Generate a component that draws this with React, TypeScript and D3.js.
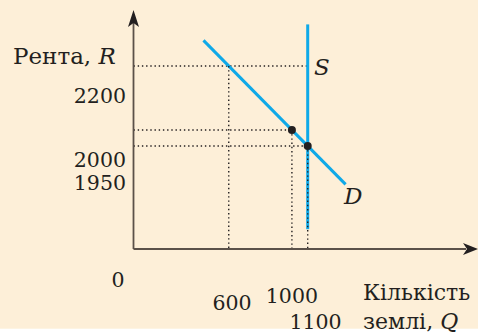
import React from "react";
import * as d3 from "d3";

// ---- data ----
const demandQ = [440, 1340];
const demandR = [2280, 1830];
const supplyQ = [1100, 1100];
const supplyR = [2330, 1690];
const equilibriumQ = [1000, 1100];
const equilibriumR = [2000, 1950];
const guideQ = [600, 1000, 1100];
const guideR = [2200, 2000, 1950];
const xTicks = [0, 600, 1000, 1100];
const yTicks = [2200, 2000, 1950];
const yTitle = "Рента, ";
const yTitleVar = "R";
const xTitle1 = "Кількість";
const xTitle2 = "землі, ";
const xTitleVar = "Q";
const supplyLabel = "S";
const demandLabel = "D";

// ---- layout ----
const W = 478;
const H = 336;
const BG_H = 328.7;
const AXIS_X = 133.5;
const AXIS_Y = 249;
const FONT = "'DejaVu Serif', serif";
const INK = "#231f20";
const BLUE = "#0fa9e8";
// label offsets (schematic placement of the original)
const xTickDx = [-16, 3.3, 0, 7.8];
const xTickDy = [31, 53.5, 46.5, 72.5];
const yTickDy = [30, 30, 37];

export default function App() {
  const x = d3.scaleLinear().domain([0, 1100]).range([134, 307.7]);
  const y = d3.scaleLinear().domain([1950, 2200]).range([146, 66]);

  const line = d3
    .line<[number, number]>()
    .x((d) => x(d[0]))
    .y((d) => y(d[1]));

  const demand: [number, number][] = demandQ.map((q, i) => [q, demandR[i]]);
  const supply: [number, number][] = supplyQ.map((q, i) => [q, supplyR[i]]);

  const hGuides = guideR.map((r, i) => {
    const qEnd = i === 0 ? supplyQ[0] : guideQ[i];
    return { x1: AXIS_X, x2: x(qEnd), y: y(r) };
  });
  const vGuides = guideQ.map((q, i) => ({ x: x(q), y1: y(guideR[i]), y2: AXIS_Y }));

  const dash = "1.4 2.8";

  return (
    <svg
      width={W}
      height={H}
      style={{ position: "absolute", left: 0, top: 0, background: "#fff" }}
      fontFamily={FONT}
    >
      <rect x={0} y={0} width={W} height={BG_H} fill="#fdefd8" />

      {hGuides.map((g, i) => (
        <line key={"h" + i} x1={g.x1} x2={g.x2} y1={g.y} y2={g.y} stroke={INK} strokeWidth={1.4} strokeDasharray={dash} />
      ))}

      <path d={line(demand) || ""} fill="none" stroke={BLUE} strokeWidth={3} />
      <path d={line(supply) || ""} fill="none" stroke={BLUE} strokeWidth={3} />

      {vGuides.map((g, i) => (
        <line key={"v" + i} x1={g.x} x2={g.x} y1={g.y1} y2={g.y2} stroke={INK} strokeWidth={1.4} strokeDasharray={dash} />
      ))}

      <line x1={AXIS_X} x2={AXIS_X} y1={AXIS_Y} y2={22} stroke="#5b5149" strokeWidth={1.8} />
      <line x1={AXIS_X} x2={466} y1={AXIS_Y} y2={AXIS_Y} stroke="#5b5149" strokeWidth={1.8} />
      <path
        d={`M${AXIS_X},10 L${AXIS_X + 5.5},27 L${AXIS_X},23 L${AXIS_X - 5.5},27 Z`}
        fill={INK}
      />
      <path d={`M478,${AXIS_Y} L463,${AXIS_Y - 6} L467,${AXIS_Y} L463,${AXIS_Y + 6} Z`} fill={INK} />

      {equilibriumQ.map((q, i) => (
        <circle key={"p" + i} cx={x(q)} cy={y(equilibriumR[i])} r={4} fill={INK} />
      ))}

      {yTicks.map((t, i) => (
        <text
          key={"yt" + i}
          x={126}
          y={y(t) + yTickDy[i]}
          textAnchor="end"
          dominantBaseline="central"
          fontSize={20.5}
          fill={INK}
        >
          {t}
        </text>
      ))}

      {xTicks.map((t, i) => (
        <text
          key={"xt" + i}
          x={x(t) + xTickDx[i]}
          y={AXIS_Y + xTickDy[i]}
          textAnchor="middle"
          dominantBaseline="central"
          fontSize={20.5}
          fill={INK}
        >
          {t}
        </text>
      ))}

      <text x={13} y={64} fontSize={23} fill={INK}>
        {yTitle}
        <tspan fontStyle="italic">{yTitleVar}</tspan>
      </text>
      <text x={363} y={299.5} fontSize={22} fill={INK}>
        {xTitle1}
      </text>
      <text x={363} y={329} fontSize={22} fill={INK}>
        {xTitle2}
        <tspan fontStyle="italic">{xTitleVar}</tspan>
      </text>
      <text x={314} y={75} fontSize={23} fontStyle="italic" fill={INK}>
        {supplyLabel}
      </text>
      <text x={344} y={204} fontSize={23} fontStyle="italic" fill={INK}>
        {demandLabel}
      </text>
    </svg>
  );
}
